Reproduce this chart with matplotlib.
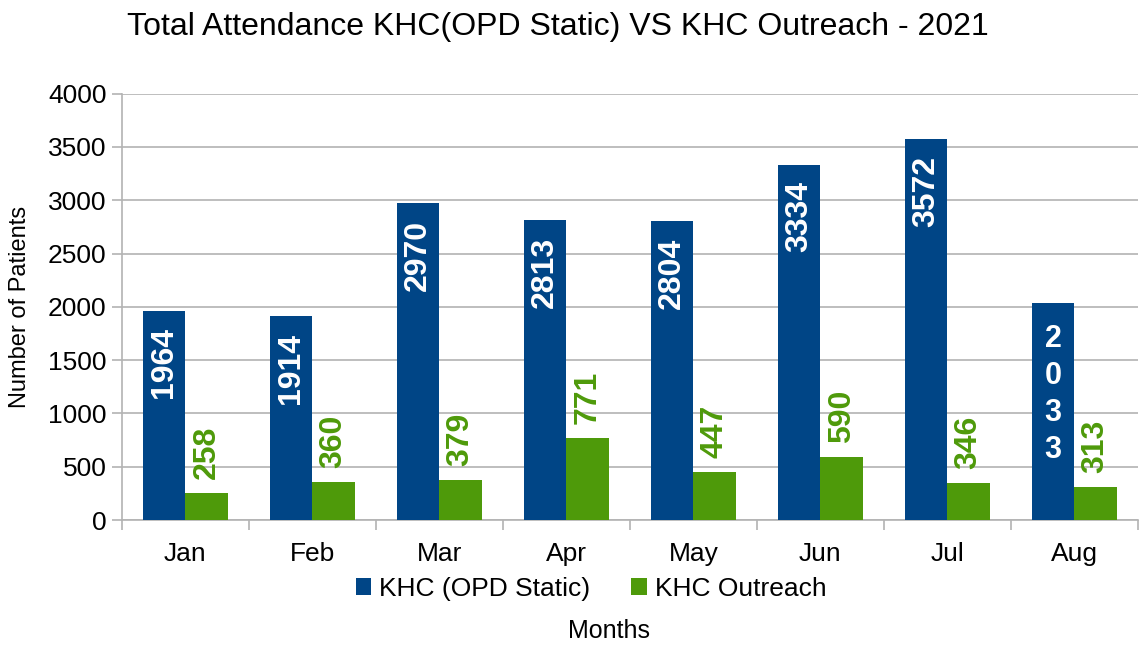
import matplotlib.pyplot as plt
import numpy as np

plt.rcParams['font.family'] = ['Liberation Sans', 'DejaVu Sans']

months = ["Jan", "Feb", "Mar", "Apr", "May", "Jun", "Jul", "Aug"]
opd_static = [1964, 1914, 2970, 2813, 2804, 3334, 3572, 2033]
outreach = [258, 360, 379, 771, 447, 590, 346, 313]

blue = "#004586"
green = "#4e9a0a"
grid_col = "#b3b3b3"

fig = plt.figure(figsize=(11.39, 6.46), dpi=100)
ax = fig.add_axes([0.107, 0.195, 0.892, 0.66])

x = np.arange(len(months))
w = 0.335
b1 = ax.bar(x - w / 2, opd_static, w, color=blue, label="KHC (OPD Static)", zorder=3)
b2 = ax.bar(x + w / 2, outreach, w, color=green, label="KHC Outreach", zorder=3)

# value labels
for i, v in enumerate(opd_static):
    if months[i] == "Aug":
        ax.annotate("\n".join(str(v)), (x[i] - w / 2, v), xytext=(0, -15),
                    textcoords="offset points", ha="center", va="top",
                    color="white", fontsize=22, fontweight="bold",
                    linespacing=1.3, zorder=4)
    else:
        ax.annotate(str(v), (x[i] - w / 2, v), xytext=(0, -12),
                    textcoords="offset points", ha="center", va="top",
                    rotation=90, color="white", fontsize=23,
                    fontweight="bold", zorder=4)
for i, v in enumerate(outreach):
    ax.annotate(str(v), (x[i] + w / 2, v), xytext=(0, 10),
                textcoords="offset points", ha="center", va="bottom",
                rotation=90, color=green, fontsize=23, fontweight="bold",
                zorder=4)

ax.set_ylim(0, 4000)
ax.set_xlim(-0.5, len(months) - 0.5)
ax.set_yticks(range(0, 4001, 500))
ax.set_xticks(x)
ax.set_xticklabels(months)
ax.set_xticks(np.arange(-0.5, len(months), 1), minor=True)
ax.tick_params(axis="x", which="major", length=0, labelsize=19, pad=16)
ax.tick_params(axis="x", which="minor", length=7, color=grid_col, width=1.2)
ax.tick_params(axis="y", length=7, color=grid_col, width=1.2, labelsize=19, pad=4)

ax.grid(axis="y", color=grid_col, linewidth=1.2, zorder=0)
for side in ["top", "right"]:
    ax.spines[side].set_visible(False)
for side in ["left", "bottom"]:
    ax.spines[side].set_color(grid_col)
    ax.spines[side].set_linewidth(1.2)

ax.set_ylabel("Number of Patients", fontsize=17, labelpad=12)
fig.text(0.535, 0.005, "Months", fontsize=18, ha="center", va="bottom")
fig.text(0.49, 0.935, "Total Attendance KHC(OPD Static) VS KHC Outreach - 2021",
         fontsize=23, ha="center", va="bottom")

fig.legend(handles=[b1, b2], loc="center", bbox_to_anchor=(0.519, 0.088),
           ncol=2, frameon=False, fontsize=19, handlelength=0.6,
           handleheight=0.6, handletextpad=0.3, columnspacing=1.55)

fig.savefig("out.png", dpi=100)
